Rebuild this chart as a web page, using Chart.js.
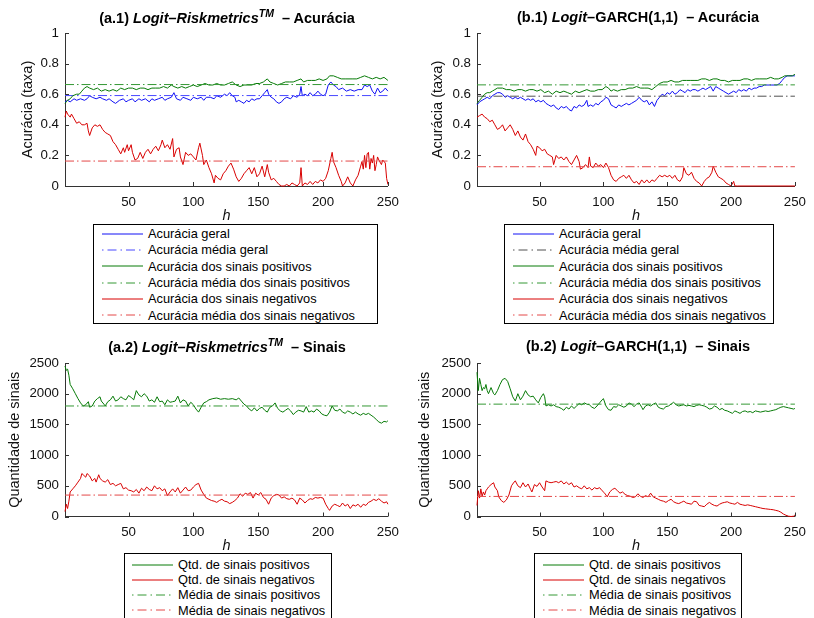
<!DOCTYPE html>
<html>
<head>
<meta charset="utf-8">
<script src="https://cdn.jsdelivr.net/npm/chart.js@4"></script>
<style>
  html, body { margin: 0; padding: 0; background: #fff; }
  body { width: 814px; height: 618px; position: relative; overflow: hidden;
         font-family: "Liberation Sans", Arial, Helvetica, sans-serif; color: #000; }
  canvas { position: absolute; }
  .title { position: absolute; font-weight: bold; font-size: 14.5px; white-space: nowrap;
           transform: translate(-50%, -50%); line-height: 1; }
  .title sup { font-size: 10.5px; vertical-align: 6px; }
  .legend { position: absolute; background: #fff; border: 1px solid #000; box-sizing: border-box;
            font-size: 12.8px; }
  .legend .row { display: flex; align-items: center; white-space: nowrap; }
  .legend svg { flex: none; margin-right: 5px; }
</style>
</head>
<body>

<canvas id="c-a1" width="407" height="225" style="left:0;top:0"></canvas>
<canvas id="c-b1" width="407" height="225" style="left:407px;top:0"></canvas>
<canvas id="c-a2" width="407" height="225" style="left:0;top:330px"></canvas>
<canvas id="c-b2" width="407" height="225" style="left:407px;top:330px"></canvas>

<div class="title" style="left:227px;top:17px">(a.1) <i>Logit–Riskmetrics<sup>TM</sup></i>&nbsp; – Acurácia</div>
<div class="title" style="left:638px;top:17px">(b.1) <i>Logit</i>–GARCH(1,1)&nbsp; – Acurácia</div>
<div class="title" style="left:227px;top:346px">(a.2) <i>Logit–Riskmetrics<sup>TM</sup></i>&nbsp; – Sinais</div>
<div class="title" style="left:638px;top:346px">(b.2) <i>Logit</i>–GARCH(1,1)&nbsp; – Sinais</div>

<div class="legend" id="leg-a1" style="left:93px;top:224px;width:285px;height:100px"></div>
<div class="legend" id="leg-b1" style="left:504px;top:224px;width:270px;height:100px"></div>
<div class="legend" id="leg-a2" style="left:124px;top:553px;width:208px;height:80px"></div>
<div class="legend" id="leg-b2" style="left:534px;top:553px;width:208px;height:80px"></div>

<script>
// ── Colours ─────────────────────────────────────────────────
const BLUE = "#1010f5";
const BLUE_MEAN = "#4848ff";
const GRAY_MEAN = "#505050";
const GREEN = "#067a06";
const GREEN_MEAN = "#349834";
const RED = "#d80000";
const RED_MEAN = "#e44848";
const DASHDOT = [9, 3, 1.5, 3];

// ── Axis ticks ──────────────────────────────────────────────
const hTicks = [50, 100, 150, 200, 250];
const accTicks = [0, 0.2, 0.4, 0.6, 0.8, 1];
const sigTicks = [0, 500, 1000, 1500, 2000, 2500];

// ── (a.1) Logit–Riskmetrics, acurácia ───────────────────────
const hA1Geral = [1,3,5,8,10,13,16,18,20,22,25,28,30,33,35,38,40,43,46,48,50,53,55,58,60,63,66,68,70,73,76,78,80,83,85,87,90,92,95,98,100,103,106,108,110,113,116,118,121,124,126,128,130,132,133,135,137,139,141,143,145,147,149,151,153,155,157,158,160,162,164,166,168,170,172,175,177,180,182,183,184,186,188,190,192,194,196,198,200,202,204,206,208,210,212,215,218,221,224,227,230,232,234,236,238,240,242,244,246,248,250];
const a1Geral = [0.55,0.56,0.55,0.57,0.56,0.57,0.56,0.57,0.59,0.58,0.57,0.58,0.57,0.56,0.57,0.55,0.54,0.56,0.57,0.55,0.56,0.57,0.55,0.57,0.56,0.57,0.55,0.57,0.56,0.57,0.58,0.56,0.57,0.58,0.61,0.57,0.56,0.58,0.57,0.56,0.58,0.57,0.58,0.56,0.58,0.58,0.57,0.59,0.58,0.60,0.59,0.61,0.59,0.58,0.55,0.56,0.55,0.54,0.56,0.55,0.57,0.56,0.57,0.57,0.59,0.61,0.63,0.60,0.58,0.57,0.55,0.54,0.55,0.57,0.58,0.57,0.59,0.58,0.60,0.65,0.59,0.60,0.59,0.61,0.59,0.60,0.62,0.60,0.59,0.60,0.66,0.68,0.66,0.65,0.63,0.64,0.62,0.63,0.62,0.63,0.63,0.66,0.65,0.66,0.62,0.60,0.64,0.61,0.62,0.64,0.62];
const a1GeralMean = 0.591;

const hA1Pos = [1,3,5,7,10,12,14,16,18,20,23,26,29,32,35,38,41,44,47,50,53,56,59,62,65,68,71,74,77,80,83,85,88,91,94,97,100,103,106,109,112,115,118,121,124,127,130,133,136,139,142,145,148,151,154,157,159,162,165,168,171,174,177,180,183,185,188,191,194,197,200,203,205,208,211,214,217,220,223,226,229,232,235,238,241,244,247,250];
const a1Pos = [0.54,0.56,0.57,0.59,0.60,0.60,0.62,0.64,0.65,0.64,0.63,0.64,0.62,0.63,0.62,0.63,0.62,0.64,0.63,0.64,0.64,0.63,0.64,0.64,0.63,0.64,0.64,0.64,0.65,0.64,0.66,0.65,0.64,0.65,0.64,0.65,0.66,0.65,0.66,0.67,0.66,0.66,0.67,0.66,0.66,0.67,0.68,0.66,0.65,0.66,0.66,0.66,0.67,0.67,0.68,0.70,0.68,0.67,0.66,0.67,0.68,0.68,0.68,0.69,0.70,0.68,0.69,0.69,0.69,0.70,0.69,0.70,0.72,0.72,0.71,0.70,0.70,0.70,0.70,0.70,0.71,0.72,0.71,0.70,0.71,0.70,0.71,0.69];
const a1PosMean = 0.663;

const hA1Neg = [1,2,3,5,6,8,10,12,14,16,18,19,20,22,24,26,28,30,32,34,36,38,40,42,44,46,47,49,50,52,53,55,57,59,61,63,65,67,69,71,73,75,76,78,80,82,84,85,87,89,90,92,94,96,98,100,102,104,105,107,108,110,112,114,116,117,119,121,123,125,127,129,131,133,135,137,139,141,143,145,147,149,151,153,155,157,158,160,162,164,166,168,170,172,174,176,178,180,182,183,184,186,188,190,192,194,196,198,200,202,204,206,207,208,210,212,214,215,217,219,221,223,225,227,229,230,231,232,233,234,235,236,237,238,239,240,241,242,243,245,246,248,249,250];
const a1Neg = [0.45,0.49,0.47,0.45,0.47,0.44,0.41,0.42,0.40,0.40,0.41,0.36,0.33,0.38,0.40,0.39,0.40,0.37,0.35,0.34,0.33,0.29,0.27,0.24,0.21,0.25,0.22,0.27,0.23,0.27,0.22,0.17,0.18,0.22,0.18,0.22,0.24,0.21,0.24,0.26,0.23,0.27,0.30,0.25,0.27,0.24,0.31,0.19,0.24,0.25,0.19,0.14,0.22,0.20,0.21,0.19,0.17,0.25,0.28,0.20,0.14,0.17,0.12,0.08,0.02,0.07,0.05,0.04,0.08,0.10,0.13,0.15,0.11,0.06,0.03,0.05,0.08,0.10,0.12,0.08,0.12,0.06,0.08,0.13,0.06,0.14,0.09,0.04,0.05,0.03,0.01,0.00,0.00,0.01,0.00,0.02,0.01,0.00,0.02,0.12,0.00,0.02,0.01,0.03,0.01,0.03,0.02,0.04,0.03,0.05,0.10,0.18,0.22,0.16,0.12,0.07,0.03,0.00,0.02,0.06,0.02,0.00,0.04,0.07,0.13,0.16,0.11,0.20,0.12,0.21,0.22,0.11,0.18,0.15,0.20,0.10,0.14,0.19,0.17,0.14,0.17,0.15,0.05,0.01];
const a1NegMean = 0.163;

// ── (b.1) Logit–GARCH(1,1), acurácia ────────────────────────
const hB1Geral = [1,3,5,7,9,11,13,15,17,19,21,23,25,27,29,31,33,35,37,39,41,43,45,47,49,51,53,55,57,59,61,63,65,67,69,71,73,75,77,79,81,83,85,87,88,90,92,94,96,98,100,102,104,106,108,110,112,114,116,118,120,122,124,126,128,130,132,134,136,138,140,142,144,146,148,150,152,154,156,158,160,162,164,166,168,170,172,174,176,178,180,182,184,186,188,190,192,194,196,198,200,202,204,206,208,210,212,214,216,218,220,222,224,226,228,230,232,234,236,238,240,242,244,246,248,250];
const b1Geral = [0.53,0.55,0.56,0.57,0.58,0.57,0.59,0.60,0.61,0.61,0.60,0.58,0.59,0.58,0.57,0.58,0.57,0.58,0.57,0.56,0.57,0.56,0.57,0.55,0.56,0.55,0.56,0.54,0.53,0.52,0.53,0.51,0.50,0.52,0.51,0.52,0.50,0.49,0.52,0.51,0.53,0.52,0.53,0.56,0.52,0.53,0.52,0.54,0.53,0.55,0.56,0.58,0.57,0.53,0.52,0.51,0.53,0.52,0.53,0.54,0.53,0.54,0.55,0.56,0.58,0.56,0.55,0.56,0.53,0.55,0.52,0.56,0.58,0.60,0.59,0.61,0.60,0.62,0.60,0.61,0.63,0.62,0.61,0.63,0.62,0.63,0.63,0.62,0.63,0.64,0.63,0.64,0.65,0.62,0.65,0.64,0.63,0.62,0.61,0.60,0.61,0.62,0.61,0.63,0.62,0.63,0.62,0.64,0.63,0.64,0.64,0.65,0.65,0.66,0.66,0.66,0.66,0.66,0.66,0.67,0.69,0.71,0.72,0.72,0.72,0.72];
const b1GeralMean = 0.587;

const hB1Pos = [1,3,5,7,9,11,13,15,17,19,21,24,27,30,33,36,39,42,45,48,51,54,57,60,63,66,69,72,75,78,81,84,87,90,93,96,99,102,104,106,108,111,114,117,120,123,126,129,132,135,138,141,144,147,150,153,156,159,162,165,168,171,174,177,180,183,186,189,192,195,198,201,204,207,210,213,216,219,222,225,228,231,234,237,240,242,245,248,250];
const b1Pos = [0.54,0.56,0.58,0.60,0.61,0.61,0.62,0.63,0.64,0.64,0.64,0.63,0.63,0.62,0.63,0.63,0.62,0.63,0.63,0.62,0.63,0.61,0.62,0.60,0.62,0.61,0.62,0.61,0.60,0.62,0.61,0.62,0.63,0.62,0.62,0.63,0.63,0.65,0.64,0.62,0.63,0.62,0.63,0.63,0.64,0.64,0.65,0.64,0.64,0.64,0.63,0.65,0.67,0.68,0.68,0.69,0.68,0.68,0.69,0.69,0.69,0.69,0.69,0.70,0.70,0.69,0.70,0.70,0.69,0.69,0.68,0.69,0.69,0.69,0.70,0.70,0.69,0.70,0.70,0.70,0.70,0.71,0.70,0.70,0.71,0.72,0.72,0.72,0.73];
const b1PosMean = 0.661;

const hB1Neg = [1,3,5,7,9,11,13,15,17,19,21,23,25,27,29,31,33,35,37,39,41,43,45,47,48,50,52,54,56,58,60,61,63,65,67,69,71,73,75,77,79,81,82,84,86,88,89,90,92,94,96,98,100,102,104,106,108,110,112,114,116,118,120,122,124,126,128,130,132,134,136,138,140,142,144,146,148,150,152,154,156,158,160,162,163,165,167,169,171,173,175,177,179,181,183,185,186,188,190,192,194,196,198,200,202,203,205,250];
const b1Neg = [0.45,0.46,0.47,0.45,0.44,0.42,0.43,0.40,0.37,0.38,0.40,0.36,0.38,0.40,0.37,0.33,0.36,0.32,0.30,0.34,0.29,0.27,0.24,0.20,0.26,0.25,0.23,0.24,0.21,0.20,0.19,0.14,0.20,0.18,0.19,0.17,0.19,0.16,0.14,0.17,0.20,0.16,0.11,0.12,0.14,0.12,0.19,0.13,0.12,0.15,0.13,0.14,0.12,0.15,0.12,0.07,0.04,0.03,0.05,0.06,0.07,0.05,0.07,0.04,0.02,0.03,0.01,0.04,0.02,0.04,0.02,0.04,0.03,0.05,0.07,0.06,0.07,0.06,0.07,0.05,0.07,0.04,0.03,0.06,0.12,0.08,0.07,0.09,0.05,0.03,0.02,0.00,0.03,0.05,0.06,0.09,0.13,0.09,0.06,0.05,0.04,0.02,0.01,0.00,0.03,0.00,0.00,0.00];
const b1NegMean = 0.126;

// ── (a.2) Logit–Riskmetrics, sinais ─────────────────────────
const hA2Pos = [1,2,3,4,5,7,9,11,13,15,17,19,20,22,24,26,28,29,31,32,34,36,38,40,42,44,46,48,50,52,54,56,58,60,62,64,66,68,70,72,74,76,78,80,82,84,86,88,90,92,94,96,98,100,102,104,106,108,110,112,115,118,121,124,127,130,133,135,137,139,141,143,145,147,149,151,153,155,157,159,161,163,165,167,169,171,173,175,177,179,181,183,185,187,189,191,193,195,197,199,201,203,205,207,209,211,213,215,217,219,221,223,225,227,229,231,233,235,237,239,241,243,245,247,249,250];
const a2Pos = [2450,2380,2400,2300,2150,2080,2000,1920,1850,1800,1820,1870,1780,1800,1880,1920,1950,1880,1830,1800,1870,1900,1960,1880,1900,1950,1920,1900,1970,1940,1900,2050,1980,1950,2000,1960,1880,1900,1860,1950,1870,1880,1820,1900,1860,1870,1880,1960,1850,1900,1880,1800,1860,1820,1750,1700,1780,1850,1870,1900,1920,1930,1910,1920,1910,1920,1900,1930,1880,1830,1800,1750,1720,1770,1720,1760,1780,1730,1700,1780,1800,1850,1760,1720,1700,1730,1760,1720,1660,1700,1730,1720,1700,1790,1700,1720,1700,1750,1720,1670,1650,1640,1700,1800,1730,1720,1750,1700,1680,1720,1700,1670,1700,1670,1650,1680,1660,1680,1650,1620,1580,1540,1520,1550,1540,1560];
const a2PosMean = 1800;

const hA2Neg = [1,2,3,4,5,7,9,11,13,14,15,17,18,20,22,24,25,27,28,30,32,34,36,38,40,42,44,46,48,50,52,54,56,58,60,62,64,66,68,70,72,74,76,78,80,82,84,86,88,90,92,94,96,98,100,102,104,106,108,110,112,114,116,118,120,122,124,126,128,130,132,134,136,138,140,142,144,146,148,150,152,154,156,158,160,162,164,166,168,170,172,174,176,178,180,182,184,186,188,190,192,194,196,198,200,202,204,205,207,209,211,213,215,217,219,221,223,225,227,229,231,233,235,237,239,241,243,245,247,249,250];
const a2Neg = [80,200,130,250,400,450,500,560,620,700,680,640,700,660,580,620,560,680,620,580,560,600,520,540,500,520,540,450,470,430,420,400,440,380,460,420,480,440,420,500,450,470,420,450,340,400,450,400,470,380,430,480,420,430,480,520,540,430,360,300,280,260,250,230,260,280,250,240,210,230,260,300,370,330,380,360,390,300,380,350,390,310,280,200,300,340,360,350,300,320,290,280,300,270,200,300,270,220,260,290,280,310,300,310,300,200,130,100,170,200,180,160,220,170,200,130,190,170,200,150,200,180,230,250,280,260,290,250,220,240,200];
const a2NegMean = 349;

// ── (b.2) Logit–GARCH(1,1), sinais ──────────────────────────
const hB2Pos = [1,2,3,4,5,6,7,8,9,10,12,14,15,17,19,21,23,25,27,29,31,33,35,37,39,41,43,45,47,49,51,53,54,55,57,59,61,63,65,67,69,71,73,75,77,79,81,83,85,87,89,91,93,95,97,99,100,102,104,106,108,110,112,114,116,118,120,122,124,126,128,130,131,133,135,137,139,141,143,145,147,149,151,153,155,157,159,161,163,165,167,169,171,173,175,177,179,181,183,185,187,189,191,193,195,197,199,201,203,205,207,209,211,213,215,217,219,221,223,225,227,229,231,233,235,237,239,241,243,245,247,249,250];
const b2Pos = [2350,2050,2250,2150,2050,2100,2080,2150,2050,2000,2100,2000,1980,2050,2150,2230,2250,2200,2080,1950,1880,2000,1900,1960,2050,1980,1950,1960,1900,1850,1940,2000,1950,1800,1820,1800,1820,1790,1780,1760,1730,1780,1750,1800,1760,1800,1840,1820,1850,1830,1820,1780,1760,1800,1850,1900,1920,1800,1740,1730,1790,1780,1820,1800,1780,1800,1850,1830,1790,1830,1850,1780,1740,1800,1820,1800,1830,1850,1780,1760,1750,1790,1800,1830,1860,1820,1800,1810,1820,1800,1810,1800,1790,1810,1820,1810,1800,1780,1750,1760,1800,1780,1740,1760,1730,1720,1700,1680,1720,1700,1680,1710,1720,1700,1710,1690,1720,1710,1700,1710,1720,1710,1720,1730,1740,1760,1780,1790,1780,1770,1760,1750,1760];
const b2PosMean = 1830;

const hB2Neg = [1,2,3,4,5,6,7,8,9,10,12,14,15,17,18,20,22,24,26,28,30,31,33,35,37,39,41,43,44,46,48,50,52,54,55,57,59,61,63,65,67,69,71,73,75,77,79,81,83,85,87,89,91,93,95,97,99,101,103,105,107,109,111,113,115,117,119,121,123,125,127,129,131,133,135,137,139,141,143,145,147,149,151,153,155,157,159,161,163,165,167,169,171,173,175,177,179,181,183,185,187,189,191,193,195,197,199,201,203,205,207,209,211,213,215,217,219,221,223,225,227,229,231,233,235,237,239,241,243,245,247,249,250];
const b2Neg = [180,420,300,450,330,400,350,420,450,480,520,550,480,420,320,260,230,270,350,500,560,580,500,470,550,480,530,440,400,520,490,550,480,420,580,560,550,560,570,550,580,530,560,520,550,480,500,470,450,500,450,470,430,470,450,470,420,380,320,400,440,460,420,380,400,360,340,330,310,320,370,330,310,340,320,380,320,300,280,260,250,230,260,280,240,220,210,230,250,220,210,200,250,240,180,170,160,200,230,200,180,170,200,220,230,240,220,210,200,230,200,190,180,190,180,170,160,150,140,130,125,120,115,110,100,90,70,40,20,5,0,5,25];
const b2NegMean = 327;

// ── Helpers ─────────────────────────────────────────────────

function xy(hs, vs) {
  return hs.map((h, i) => ({ x: h, y: vs[i] }));
}

function meanLine(v) {
  return [{ x: 1, y: v }, { x: 250, y: v }];
}

function solid(data, color) {
  return { data, borderColor: color, borderWidth: 1, pointRadius: 0, tension: 0, clip: false };
}

function dashed(data, color) {
  return { data, borderColor: color, borderWidth: 1, borderDash: DASHDOT, pointRadius: 0, tension: 0, clip: false };
}

// MATLAB-style ticks drawn inward from the axes
const inwardTicks = {
  id: "inwardTicks",
  afterDatasetsDraw(chart) {
    const { ctx, chartArea: a, scales } = chart;
    ctx.save();
    ctx.strokeStyle = "#333";
    ctx.lineWidth = 1;
    ctx.beginPath();
    scales.y.ticks.forEach(t => {
      const y = Math.round(scales.y.getPixelForValue(t.value)) + 0.5;
      ctx.moveTo(a.left, y);
      ctx.lineTo(a.left + 4, y);
    });
    scales.x.ticks.forEach(t => {
      const x = Math.round(scales.x.getPixelForValue(t.value)) + 0.5;
      ctx.moveTo(x, a.bottom);
      ctx.lineTo(x, a.bottom - 4);
    });
    ctx.stroke();
    ctx.restore();
  },
};

function makePanel(id, cfg) {
  new Chart(document.getElementById(id), {
    type: "line",
    data: { datasets: cfg.datasets },
    plugins: [inwardTicks],
    options: {
      responsive: false,
      animation: false,
      devicePixelRatio: 1,
      layout: { padding: cfg.padding },
      plugins: { legend: { display: false }, tooltip: { enabled: false } },
      scales: {
        x: {
          type: "linear",
          min: 1,
          max: 250,
          afterBuildTicks: s => { s.ticks = hTicks.map(v => ({ value: v })); },
          afterFit: s => { s.height = cfg.xHeight; },
          grid: { display: false, drawTicks: false },
          border: { display: true, color: "#333", width: 1 },
          ticks: { color: "#111", font: { size: 13.3 }, padding: 8, maxRotation: 0 },
          title: { display: true, text: "h", color: "#111", padding: 0,
                   font: { size: 14.5, style: "italic", lineHeight: 1.2 } },
        },
        y: {
          min: 0,
          max: cfg.yTicks[cfg.yTicks.length - 1],
          afterBuildTicks: s => { s.ticks = cfg.yTicks.map(v => ({ value: v })); },
          afterFit: s => { s.width = cfg.yWidth; },
          grid: { display: false, drawTicks: false },
          border: { display: true, color: "#333", width: 1 },
          ticks: { color: "#111", font: { size: 13.3 }, padding: 6, callback: v => String(v) },
          title: { display: true, text: cfg.yTitle, color: "#111", padding: 0,
                   font: { size: 14.5, lineHeight: 1.2 } },
        },
      },
    },
  });
}

// ── Legends ─────────────────────────────────────────────────

function buildLegend(id, items, rowH, padTop, padLeft) {
  const box = document.getElementById(id);
  box.style.paddingTop = padTop + "px";
  items.forEach(([label, color, dash]) => {
    const row = document.createElement("div");
    row.className = "row";
    row.style.height = rowH + "px";
    row.style.paddingLeft = padLeft + "px";
    const da = dash ? ' stroke-dasharray="1.5 4 9 4"' : "";
    row.innerHTML =
      `<svg width="41" height="4"><line x1="0" y1="2" x2="41" y2="2" stroke="${color}" stroke-width="1"${da}/></svg>` +
      `<span>${label}</span>`;
    box.appendChild(row);
  });
}

Chart.defaults.font.family = '"Liberation Sans", Arial, Helvetica, sans-serif';

// ── Panels ──────────────────────────────────────────────────

makePanel("c-a1", {
  padding: { top: 33, left: 19.3, right: 18, bottom: 0 },
  yWidth: 45.7, xHeight: 39, yTicks: accTicks, yTitle: "Acurácia (taxa)",
  datasets: [
    dashed(meanLine(a1NegMean), RED_MEAN),
    solid(xy(hA1Neg, a1Neg), RED),
    dashed(meanLine(a1PosMean), GREEN_MEAN),
    solid(xy(hA1Pos, a1Pos), GREEN),
    dashed(meanLine(a1GeralMean), BLUE_MEAN),
    solid(xy(hA1Geral, a1Geral), BLUE),
  ],
});

makePanel("c-b1", {
  padding: { top: 33, left: 22.6, right: 14, bottom: 0 },
  yWidth: 47.4, xHeight: 39, yTicks: accTicks, yTitle: "Acurácia (taxa)",
  datasets: [
    dashed(meanLine(b1NegMean), RED_MEAN),
    solid(xy(hB1Neg, b1Neg), RED),
    dashed(meanLine(b1PosMean), GREEN_MEAN),
    solid(xy(hB1Pos, b1Pos), GREEN),
    dashed(meanLine(b1GeralMean), GRAY_MEAN),
    solid(xy(hB1Geral, b1Geral), BLUE),
  ],
});

makePanel("c-a2", {
  padding: { top: 33, left: 6.3, right: 18, bottom: 0 },
  yWidth: 58.7, xHeight: 38.5, yTicks: sigTicks, yTitle: "Quantidade de sinais",
  datasets: [
    dashed(meanLine(a2NegMean), RED_MEAN),
    dashed(meanLine(a2PosMean), GREEN_MEAN),
    solid(xy(hA2Neg, a2Neg), RED),
    solid(xy(hA2Pos, a2Pos), GREEN),
  ],
});

makePanel("c-b2", {
  padding: { top: 33, left: 9.3, right: 14, bottom: 0 },
  yWidth: 60.7, xHeight: 38.5, yTicks: sigTicks, yTitle: "Quantidade de sinais",
  datasets: [
    dashed(meanLine(b2NegMean), RED_MEAN),
    dashed(meanLine(b2PosMean), GREEN_MEAN),
    solid(xy(hB2Neg, b2Neg), RED),
    solid(xy(hB2Pos, b2Pos), GREEN),
  ],
});

const accItems = geralMeanColor => [
  ["Acurácia geral", BLUE, false],
  ["Acurácia média geral", geralMeanColor, true],
  ["Acurácia dos sinais positivos", GREEN, false],
  ["Acurácia média dos sinais positivos", GREEN_MEAN, true],
  ["Acurácia dos sinais negativos", RED, false],
  ["Acurácia média dos sinais negativos", RED_MEAN, true],
];
const sigItems = [
  ["Qtd. de sinais positivos", GREEN, false],
  ["Qtd. de sinais negativos", RED, false],
  ["Média de sinais positivos", GREEN_MEAN, true],
  ["Média de sinais negativos", RED_MEAN, true],
];

buildLegend("leg-a1", accItems(BLUE_MEAN), 16.3, 0.5, 8);
buildLegend("leg-b1", accItems(GRAY_MEAN), 16.3, 0.5, 8);
buildLegend("leg-a2", sigItems, 15.2, 3, 7);
buildLegend("leg-b2", sigItems, 15.2, 3, 8);
</script>
</body>
</html>
